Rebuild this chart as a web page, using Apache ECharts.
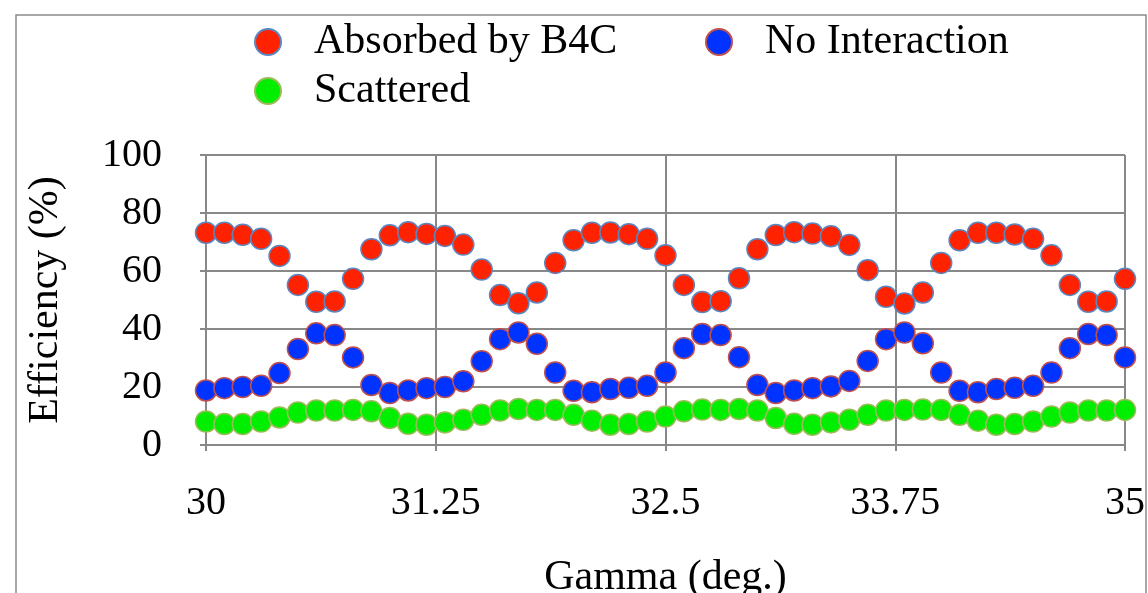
<!DOCTYPE html>
<html>
<head>
<meta charset="utf-8">
<script src="https://cdn.jsdelivr.net/npm/echarts@6/dist/echarts.min.js"></script>
<style>html,body{margin:0;padding:0;background:#fff;}#c{width:1148px;height:593px;}</style>
</head>
<body>
<div id="c"></div>
<script>
const gammaDeg = [30.0,30.1,30.2,30.3,30.4,30.5,30.6,30.7,30.8,30.9,31.0,31.1,31.2,31.3,31.4,31.5,31.6,31.7,31.8,31.9,32.0,32.1,32.2,32.3,32.4,32.5,32.6,32.7,32.8,32.9,33.0,33.1,33.2,33.3,33.4,33.5,33.6,33.7,33.8,33.9,34.0,34.1,34.2,34.3,34.4,34.5,34.6,34.7,34.8,34.9,35.0];
const absorbedB4C = [73.2,73.2,72.5,71.1,65.2,55.2,49.4,49.5,57.3,67.5,72.3,73.4,72.8,72.1,69.1,60.5,51.7,48.9,52.6,62.8,70.6,73.2,73.3,72.7,71.1,65.4,55.2,49.3,49.6,57.5,67.5,72.4,73.4,72.9,72.0,69.0,60.3,51.1,48.8,52.6,62.8,70.6,73.2,73.2,72.6,71.1,65.4,55.2,49.4,49.5,57.3];
const noInteraction = [18.8,19.6,20.0,20.4,24.8,33.1,38.5,37.9,30.2,20.7,17.9,18.8,19.6,20.0,22.0,28.9,36.5,38.8,34.9,25.0,18.7,18.2,19.3,19.7,20.4,25.0,33.4,38.3,37.9,30.3,20.7,17.9,18.8,19.6,20.2,22.1,29.0,36.5,38.8,35.1,25.0,18.7,18.2,19.3,19.7,20.4,25.0,33.4,38.3,37.9,30.2];
const scattered = [8.1,7.2,7.2,8.1,9.5,11.2,11.9,11.9,12.1,11.6,9.3,7.3,7.0,7.8,8.7,10.4,11.9,12.4,12.1,12.1,10.4,8.4,7.0,7.2,8.1,9.8,11.6,12.2,12.1,12.4,11.9,9.3,7.3,7.0,7.8,8.7,10.4,11.9,12.1,12.2,12.1,10.4,8.4,7.0,7.2,8.1,9.8,11.2,11.9,11.9,12.1];
const seriesNames = ['Absorbed by B4C','No Interaction','Scattered'];
const xTickInterval = 1.25;

const pairs = (ys) => gammaDeg.map((x, i) => [x, ys[i]]);
const FONT = 'Liberation Serif';
const gridColor = '#888888';

const chart = echarts.init(document.getElementById('c'));
const legendText = {fontFamily: FONT, fontSize: 42, color: '#000', padding: [0,0,0,28]};
const legendBase = {itemWidth:26, itemHeight:26, icon:'circle', textStyle: legendText, padding:0};
chart.setOption({
  animation: false,
  backgroundColor: '#fff',
  graphic: [{type:'rect', shape:{x:16,y:15,width:1130,height:640}, style:{fill:'none', stroke:'#8a8a8a', lineWidth:1.5}, z:-1}],
  legend: [
    Object.assign({data:[seriesNames[0]], left:254, top:21}, legendBase),
    Object.assign({data:[seriesNames[1]], left:705, top:21}, legendBase),
    Object.assign({data:[seriesNames[2]], left:254, top:70}, legendBase)
  ],
  grid: {left:206, right:23, top:155, bottom:148, containLabel:false, outerBoundsMode:'none'},
  xAxis: {
    type:'value', min:30, max:35, interval:xTickInterval,
    name:'Gamma (deg.)', nameLocation:'middle', nameGap:112,
    nameTextStyle:{fontFamily:FONT, fontSize:42, color:'#000'},
    axisLine:{show:true, onZero:false, lineStyle:{color:gridColor, width:2}},
    axisTick:{show:true, length:6, lineStyle:{color:gridColor, width:2}},
    axisLabel:{fontFamily:FONT, fontSize:40, color:'#000', margin:38, showMinLabel:true, showMaxLabel:true},
    splitLine:{show:true, lineStyle:{color:gridColor, width:2}}
  },
  yAxis: {
    type:'value', min:0, max:100, interval:20,
    name:'Efficiency (%)', nameLocation:'middle', nameGap:139,
    nameTextStyle:{fontFamily:FONT, fontSize:42, color:'#000'},
    axisLine:{show:true, lineStyle:{color:gridColor, width:2}},
    axisTick:{show:true, length:6, lineStyle:{color:gridColor, width:2}},
    axisLabel:{fontFamily:FONT, fontSize:40, color:'#000', margin:44},
    splitLine:{show:true, lineStyle:{color:gridColor, width:2}}
  },
  series: [
    {name:seriesNames[0], type:'scatter', symbol:'circle', symbolSize:21, data:pairs(absorbedB4C),
     itemStyle:{color:'#ff2200', borderColor:'#5b86c0', borderWidth:1.5, opacity:1}},
    {name:seriesNames[1], type:'scatter', symbol:'circle', symbolSize:21, data:pairs(noInteraction),
     itemStyle:{color:'#0033ff', borderColor:'#c0504d', borderWidth:1.5, opacity:1}},
    {name:seriesNames[2], type:'scatter', symbol:'circle', symbolSize:21, data:pairs(scattered),
     itemStyle:{color:'#00ee00', borderColor:'#9bbb59', borderWidth:1.5, opacity:1}}
  ]
});
</script>
</body>
</html>
